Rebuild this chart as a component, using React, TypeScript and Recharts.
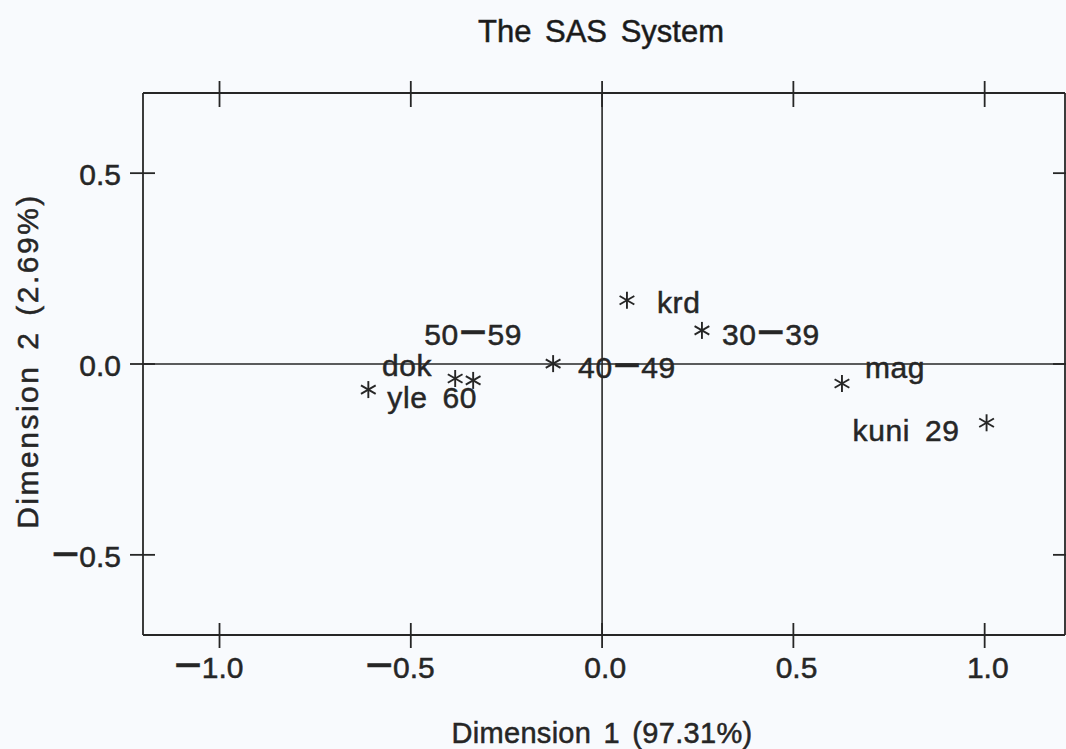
import React from 'react';
import { ScatterChart, Scatter, XAxis, YAxis, ReferenceLine } from 'recharts';

// ---- data ----
const pointLabels = ['krd', '30−39', '40−49', '50−59', 'dok', 'yle 60', 'mag', 'kuni 29'];
const dim1 = [0.065, 0.261, -0.128, -0.337, -0.384, -0.611, 0.627, 1.005];
const dim2 = [0.167, 0.088, 0.001, -0.043, -0.038, -0.067, -0.051, -0.154];
const xTicks = [-1, -0.5, 0, 0.5, 1];
const yTicks = [-0.5, 0, 0.5];
const titleText = 'The SAS System';
const xTitle = 'Dimension 1 (97.31%)';
const yTitle = 'Dimension 2 (2.69%)';

// ---- style (label placement relative to marker) ----
const labelStyle: Record<string, { dx: number; dy: number; anchor: 'start' | 'middle' | 'end' }> = {
  'krd': { dx: 30, dy: 13, anchor: 'start' },
  '30−39': { dx: 20, dy: 15, anchor: 'start' },
  '40−49': { dx: 25, dy: 14, anchor: 'start' },
  '50−59': { dx: 0, dy: -35, anchor: 'middle' },
  'dok': { dx: -23, dy: -3, anchor: 'end' },
  'yle 60': { dx: 19, dy: 18, anchor: 'start' },
  'mag': { dx: 23, dy: -5, anchor: 'start' },
  'kuni 29': { dx: -27, dy: 18, anchor: 'end' },
};

const points = pointLabels.map((name, i) => ({ name, x: dim1[i], y: dim2[i] }));

const INK = '#262626';
const FONT = '"Liberation Sans", Arial, Helvetica, sans-serif';
const FS = 30;
const HEAVY = { stroke: INK, strokeWidth: 0.5 };

const fmt = (v: number) => (v < 0 ? '−' + Math.abs(v).toFixed(1) : v.toFixed(1));

// render minus signs as a long dash like the original plotting font
const withDash = (s: string, fs: number) => {
  const parts = s.split('−');
  const out: React.ReactNode[] = [];
  const shift = Math.round(fs * 0.1);
  parts.forEach((p, i) => {
    if (i > 0) {
      out.push(
        <tspan key={'d' + i} fontSize={fs * 1.6} dy={shift} strokeWidth={0.4}>
          −
        </tspan>
      );
    }
    if (p) {
      out.push(
        <tspan key={'p' + i} dy={i > 0 ? -shift : 0}>
          {p}
        </tspan>
      );
    }
  });
  return out;
};

const BottomTick = (props: any) => {
  const { x, y, payload } = props;
  return (
    <g>
      <line x1={x} x2={x} y1={y - 12} y2={y + 13} stroke={INK} strokeWidth={1.8} />
      <text x={x + 24} y={y + 43} textAnchor="end" fontFamily={FONT} fontSize={FS} fill={INK} {...HEAVY}>
        {withDash(fmt(payload.value), FS)}
      </text>
    </g>
  );
};

const TopTick = (props: any) => {
  const { x, y } = props;
  return <line x1={x} x2={x} y1={y - 12} y2={y + 14} stroke={INK} strokeWidth={1.8} />;
};

const LeftTick = (props: any) => {
  const { x, y, payload } = props;
  return (
    <g>
      <line x1={x - 13} x2={x + 12} y1={y} y2={y} stroke={INK} strokeWidth={1.8} />
      <text x={x - 22} y={y + 12} textAnchor="end" fontFamily={FONT} fontSize={FS} fill={INK} {...HEAVY}>
        {withDash(fmt(payload.value), FS)}
      </text>
    </g>
  );
};

const RightTick = (props: any) => {
  const { x, y } = props;
  return <line x1={x - 12} x2={x + 12} y1={y} y2={y} stroke={INK} strokeWidth={1.8} />;
};

const StarShape = (props: any) => {
  const { cx, cy, payload } = props;
  const r = 8.5;
  const arms = [90, 30, -30].map((a) => {
    const rad = (a * Math.PI) / 180;
    const dx = r * Math.cos(rad);
    const dy = r * Math.sin(rad);
    return <line key={a} x1={cx - dx} y1={cy - dy} x2={cx + dx} y2={cy + dy} stroke={INK} strokeWidth={1.9} />;
  });
  const st = labelStyle[payload.name] || { dx: 20, dy: 10, anchor: 'start' };
  return (
    <g>
      {arms}
      <text
        x={cx + st.dx}
        y={cy + st.dy}
        textAnchor={st.anchor}
        fontFamily={FONT}
        fontSize={FS}
        letterSpacing={0.6}
        wordSpacing={6}
        fill={INK}
        {...HEAVY}
      >
        {withDash(payload.name, FS)}
      </text>
    </g>
  );
};

const TitleLabel = (props: any) => {
  const vb = props.viewBox || { x: 143, y: 0, width: 922, height: 93 };
  return (
    <text
      x={vb.x + vb.width / 2 - 3}
      y={42}
      textAnchor="middle"
      fontFamily={FONT}
      fontSize={31}
      wordSpacing={5}
      fill="#1a1a1a"
      {...HEAVY}
    >
      {titleText}
    </text>
  );
};

const XTitleLabel = (props: any) => {
  const vb = props.viewBox || { x: 143, y: 635, width: 922, height: 114 };
  return (
    <text
      x={vb.x + vb.width / 2 - 2}
      y={vb.y + 108}
      textAnchor="middle"
      fontFamily={FONT}
      fontSize={29}
      letterSpacing={0.3}
      wordSpacing={4}
      fill={INK}
      {...HEAVY}
    >
      {xTitle}
    </text>
  );
};

const YTitleLabel = (props: any) => {
  const vb = props.viewBox || { x: 0, y: 93, width: 143, height: 542 };
  const cx = 38;
  const cy = vb.y + vb.height / 2 - 3;
  return (
    <text
      x={cx}
      y={cy}
      transform={`rotate(-90 ${cx} ${cy})`}
      textAnchor="middle"
      fontFamily={FONT}
      fontSize={30}
      letterSpacing={2.5}
      wordSpacing={4}
      fill={INK}
      {...HEAVY}
    >
      {yTitle}
    </text>
  );
};

export default function App() {
  return (
    <div style={{ position: 'absolute', left: 0, top: 0, width: 1066, height: 749, background: '#f8fafd' }}>
      <ScatterChart width={1066} height={749} margin={{ top: 0, right: 0, bottom: 0, left: 0 }}>
        <XAxis
          xAxisId="b"
          type="number"
          dataKey="x"
          domain={[-1.2, 1.21]}
          ticks={xTicks}
          interval={0}
          orientation="bottom"
          height={114}
          tickSize={0}
          tickMargin={0}
          tickLine={false}
          axisLine={{ stroke: INK, strokeWidth: 1.8 }}
          tick={<BottomTick />}
          allowDataOverflow
          label={{ content: <XTitleLabel /> } as any}
        />
        <XAxis
          xAxisId="t"
          type="number"
          dataKey="x"
          domain={[-1.2, 1.21]}
          ticks={xTicks}
          interval={0}
          orientation="top"
          height={93}
          tickSize={0}
          tickMargin={0}
          tickLine={false}
          axisLine={{ stroke: INK, strokeWidth: 1.8 }}
          tick={<TopTick />}
          allowDataOverflow
          label={{ content: <TitleLabel /> } as any}
        />
        <YAxis
          yAxisId="l"
          type="number"
          dataKey="y"
          domain={[-0.71, 0.71]}
          ticks={yTicks}
          interval={0}
          orientation="left"
          width={143}
          tickSize={0}
          tickMargin={0}
          tickLine={false}
          axisLine={{ stroke: INK, strokeWidth: 1.8 }}
          tick={<LeftTick />}
          allowDataOverflow
          label={{ content: <YTitleLabel /> } as any}
        />
        <YAxis
          yAxisId="r"
          type="number"
          dataKey="y"
          domain={[-0.71, 0.71]}
          ticks={yTicks}
          interval={0}
          orientation="right"
          width={1}
          tickSize={0}
          tickMargin={0}
          tickLine={false}
          axisLine={{ stroke: INK, strokeWidth: 1.8 }}
          tick={<RightTick />}
          allowDataOverflow
        />
        <ReferenceLine xAxisId="b" yAxisId="l" x={0} stroke={INK} strokeWidth={1.6} />
        <ReferenceLine xAxisId="b" yAxisId="l" y={0} stroke={INK} strokeWidth={1.6} />
        <Scatter xAxisId="b" yAxisId="l" data={points} shape={<StarShape />} isAnimationActive={false} />
      </ScatterChart>
    </div>
  );
}
